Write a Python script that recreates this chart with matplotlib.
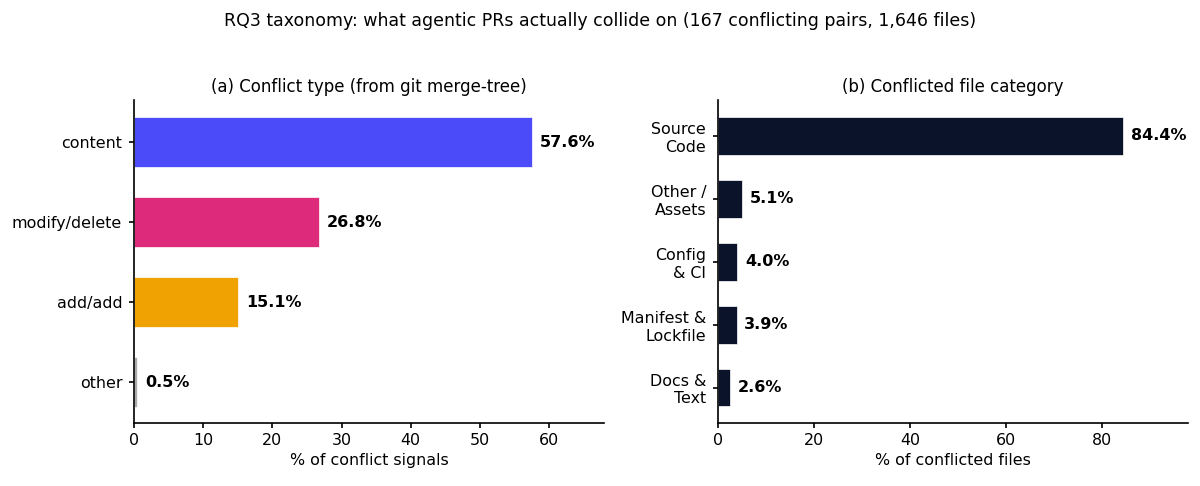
import matplotlib
matplotlib.use('Agg')
import matplotlib.pyplot as plt

types = ['content', 'modify/delete', 'add/add', 'other']
type_pct = [57.6, 26.8, 15.1, 0.5]
type_colors = ['#4B4BF9', '#DD2A7B', '#F0A202', '#AAAAAA']

cats = ['Source\nCode', 'Other /\nAssets', 'Config\n& CI', 'Manifest &\nLockfile', 'Docs &\nText']
cat_pct = [84.4, 5.1, 4.0, 3.9, 2.6]

fig = plt.figure(figsize=(12, 4.86), dpi=100)
ax1 = fig.add_axes([0.1117, 0.13, 0.3917, 0.664])
ax2 = fig.add_axes([0.5983, 0.13, 0.3917, 0.664])

y1 = range(len(types))
ax1.barh(y1, type_pct, color=type_colors, height=0.62, edgecolor='white', linewidth=0.5)
ax1.set_yticks(list(y1))
ax1.set_yticklabels(types)
ax1.set_ylim(3.51, -0.525)
ax1.set_xlim(0, max(type_pct) * 1.18)
for i, v in enumerate(type_pct):
    ax1.text(v + 1.1, i, f'{v}%', va='center', fontsize=11.5, fontweight='bold')
ax1.set_xlabel('% of conflict signals', fontsize=11.4)
ax1.set_title('(a) Conflict type (from git merge-tree)', fontsize=12)

y2 = range(len(cats))
ax2.barh(y2, cat_pct, color='#0B132B', height=0.6, edgecolor='white', linewidth=0.5)
ax2.set_yticks(list(y2))
ax2.set_yticklabels(cats)
ax2.set_ylim(4.56, -0.57)
ax2.set_xlim(0, max(cat_pct) * 1.16)
for i, v in enumerate(cat_pct):
    ax2.text(v + 1.6, i, f'{v}%', va='center', fontsize=11.5, fontweight='bold')
ax2.set_xlabel('% of conflicted files', fontsize=11.4)
ax2.set_title('(b) Conflicted file category', fontsize=12)

for ax in (ax1, ax2):
    ax.spines['top'].set_visible(False)
    ax.spines['right'].set_visible(False)
    ax.spines['left'].set_linewidth(1.2)
    ax.spines['bottom'].set_linewidth(1.2)
    ax.tick_params(labelsize=11.4, width=1.2)
    ax.tick_params(axis='y', pad=5)

fig.suptitle('RQ3 taxonomy: what agentic PRs actually collide on (167 conflicting pairs, 1,646 files)',
             fontsize=12.5, y=0.975)
fig.savefig('out.png', dpi=100)
